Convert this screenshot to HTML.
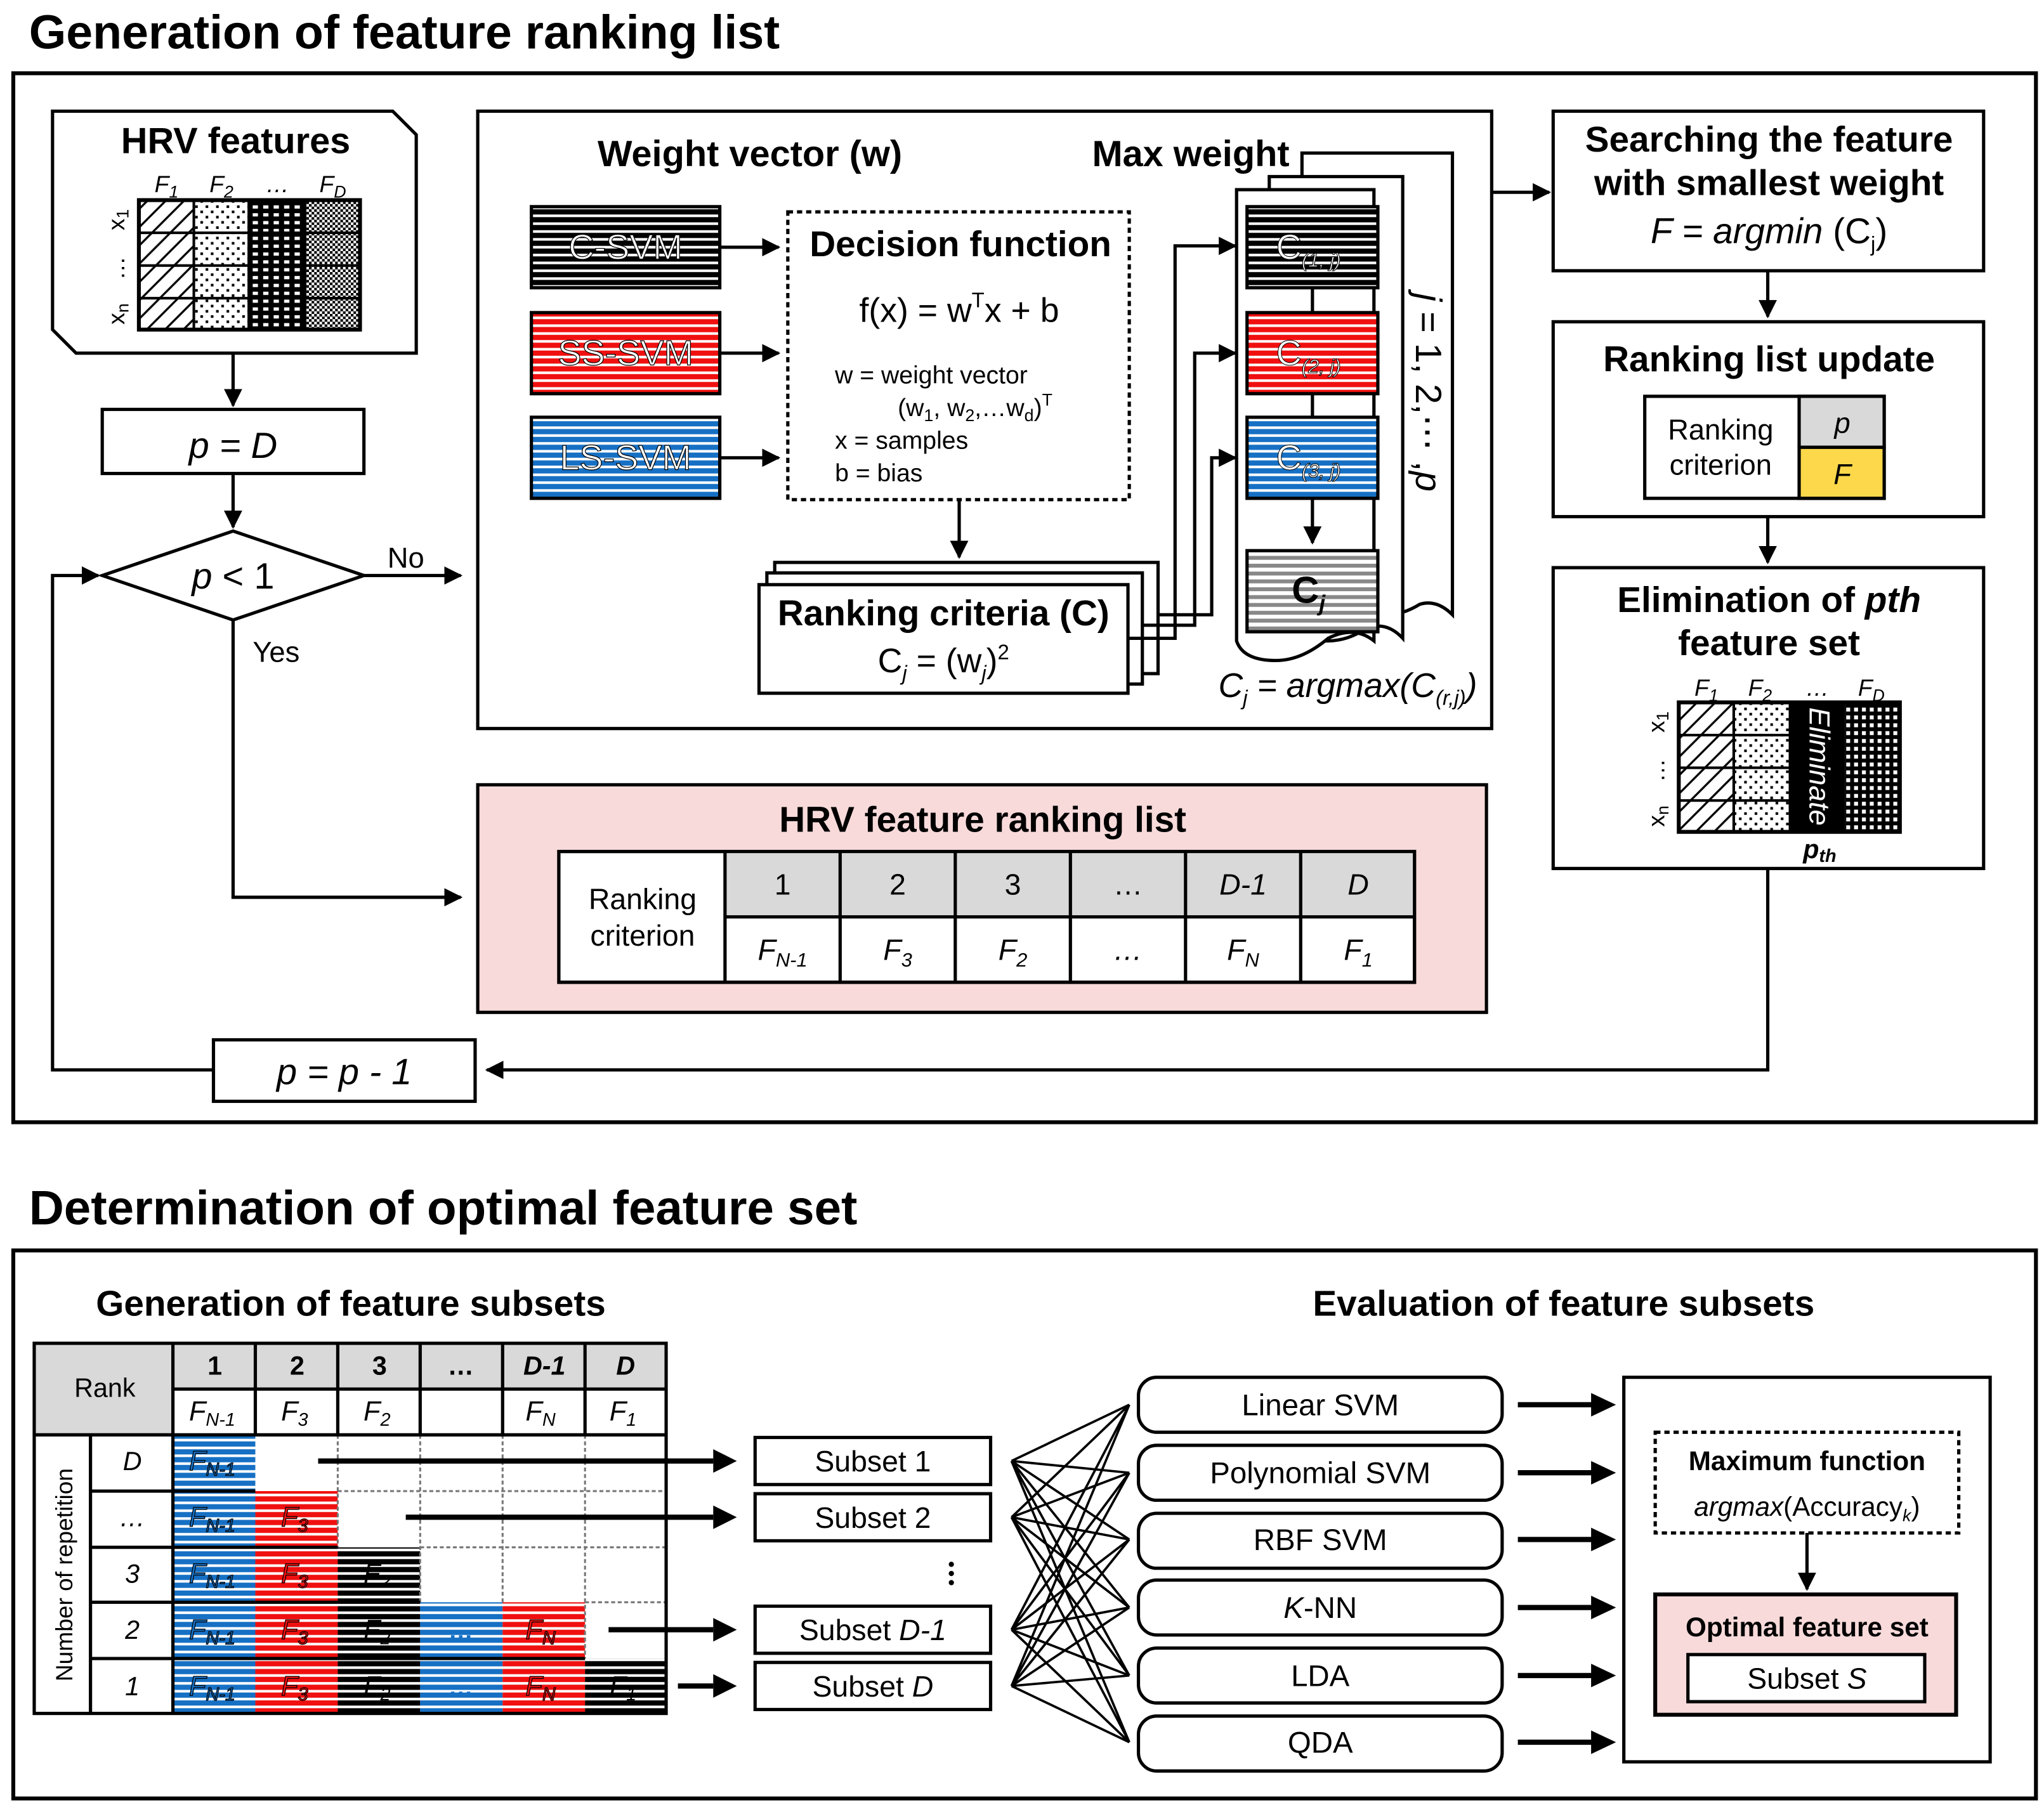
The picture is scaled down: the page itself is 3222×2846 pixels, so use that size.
<!DOCTYPE html>
<html><head><meta charset="utf-8"><style>
html,body{margin:0;padding:0;background:#fff}
svg{display:block}
text{font-family:"Liberation Sans",Arial,sans-serif}
.b{font-weight:bold}
.i{font-style:italic}
</style></head><body>
<svg width="3222" height="2846" viewBox="0 0 1562 1380" xmlns="http://www.w3.org/2000/svg">
<defs>
<pattern id="pk" width="6" height="6" patternUnits="userSpaceOnUse"><rect width="6" height="6" fill="#000"/><rect y="2" width="6" height="2" fill="#fff"/></pattern>
<pattern id="pr" width="6" height="6" patternUnits="userSpaceOnUse"><rect width="6" height="6" fill="#f01010"/><rect y="2" width="6" height="2" fill="#fff"/></pattern>
<pattern id="pb" width="6" height="6" patternUnits="userSpaceOnUse"><rect width="6" height="6" fill="#1670c4"/><rect y="2" width="6" height="2" fill="#fff"/></pattern>
<pattern id="pg" width="6" height="6" patternUnits="userSpaceOnUse"><rect width="6" height="6" fill="#888"/><rect y="2" width="6" height="3" fill="#fff"/></pattern>
<pattern id="hatch" width="14" height="14" patternUnits="userSpaceOnUse"><rect width="14" height="14" fill="#fff"/><path d="M-2,16 L16,-2 M-9,9 L9,-9 M5,23 L23,5" stroke="#000" stroke-width="1.6"/></pattern>
<pattern id="dots" width="8" height="8" patternUnits="userSpaceOnUse"><rect width="8" height="8" fill="#fff"/><rect x="1" y="1" width="2" height="2" fill="#000"/><rect x="5" y="5" width="2" height="2" fill="#000"/></pattern>
<pattern id="bdots" width="8" height="6" patternUnits="userSpaceOnUse"><rect width="8" height="6" fill="#000"/><rect x="1" y="1" width="4" height="2.5" fill="#fff"/></pattern>
<pattern id="chk" width="4" height="4" patternUnits="userSpaceOnUse"><rect width="4" height="4" fill="#fff"/><rect width="2" height="2" fill="#000"/><rect x="2" y="2" width="2" height="2" fill="#000"/></pattern>
<pattern id="wdots" width="6" height="6" patternUnits="userSpaceOnUse"><rect width="6" height="6" fill="#000"/><rect x="1" y="1" width="3" height="3" fill="#fff"/></pattern>
<marker id="ar" viewBox="0 0 10 10" refX="9" refY="5" markerWidth="14" markerHeight="14" markerUnits="userSpaceOnUse" orient="auto"><path d="M0,0 L10,5 L0,10 z"/></marker>
</defs>
<style>
.ln{stroke:#000;stroke-width:2.5;fill:none}
.bx{stroke:#000;stroke-width:2.5;fill:#fff}
</style>

<!-- Section 1 -->
<text x="22" y="37" font-size="36.5" class="b">Generation of feature ranking list</text>
<rect x="10" y="56" width="1546" height="802" fill="none" stroke="#000" stroke-width="3"/>

<!-- HRV features -->
<path d="M40,85 L300,85 L318,103 L318,270 L58,270 L40,252 Z" class="bx"/>
<text x="180" y="117" font-size="28" class="b" text-anchor="middle">HRV features</text>
<g font-size="18" class="i"><text x="118" y="147">F<tspan font-size="13" dy="4">1</tspan></text><text x="160" y="147">F<tspan font-size="13" dy="4">2</tspan></text><text x="203" y="147">…</text><text x="244" y="147">F<tspan font-size="13" dy="4">D</tspan></text></g>
<rect x="106" y="153" width="42" height="99" fill="url(#hatch)"/>
<rect x="148" y="153" width="42" height="99" fill="url(#dots)"/>
<rect x="190" y="153" width="43" height="99" fill="url(#bdots)"/>
<rect x="233" y="153" width="42" height="99" fill="url(#chk)"/>
<g stroke="#000" stroke-width="2" fill="none"><rect x="106" y="153" width="169" height="99" stroke-width="3"/><path d="M106,178H275M106,203H275M106,228H275M148,153V252M190,153V252M233,153V252"/></g>
<g font-size="18"><text transform="translate(95,168) rotate(-90)" text-anchor="middle">x<tspan font-size="13" dy="3">1</tspan></text><text transform="translate(95,205) rotate(-90)" text-anchor="middle">…</text><text transform="translate(95,240) rotate(-90)" text-anchor="middle">x<tspan font-size="13" dy="3">n</tspan></text></g>

<path d="M178,270V310" class="ln" marker-end="url(#ar)"/>
<rect x="78" y="313" width="200" height="49" class="bx"/>
<text x="178" y="350" font-size="28" class="i" text-anchor="middle">p = D</text>
<path d="M178,362V403" class="ln" marker-end="url(#ar)"/>
<path d="M78,440 L178,406 L278,440 L178,474 Z" class="bx"/>
<text x="178" y="450" font-size="28" text-anchor="middle"><tspan class="i">p</tspan> &lt; 1</text>
<text x="296" y="434" font-size="22">No</text>
<path d="M278,440H352" class="ln" marker-end="url(#ar)"/>
<text x="193" y="506" font-size="22">Yes</text>
<path d="M178,474V686H352" class="ln" marker-end="url(#ar)"/>
<path d="M163,818H40V440H75" class="ln" marker-end="url(#ar)"/>
<rect x="163" y="795" width="200" height="47" class="bx"/>
<text x="263" y="829" font-size="28" class="i" text-anchor="middle">p = p - 1</text>
<path d="M1351,665V818H372" class="ln" marker-end="url(#ar)"/>

<!-- middle box -->
<rect x="365" y="85" width="775" height="472" class="bx"/>
<text x="573" y="127" font-size="28" class="b" text-anchor="middle">Weight vector (w)</text>
<text x="910" y="127" font-size="28" class="b" text-anchor="middle">Max weight</text>
<rect x="406" y="158" width="144" height="62" fill="url(#pk)" stroke="#000" stroke-width="2.5"/>
<rect x="406" y="239" width="144" height="62" fill="url(#pr)" stroke="#000" stroke-width="2.5"/>
<rect x="406" y="319" width="144" height="62" fill="url(#pb)" stroke="#000" stroke-width="2.5"/>
<g font-size="27" fill="#fff" stroke="#000" stroke-width="0.6" text-anchor="middle"><text x="478" y="198">C-SVM</text><text x="478" y="279">SS-SVM</text><text x="478" y="359">LS-SVM</text></g>
<path d="M550,189H595" class="ln" marker-end="url(#ar)"/><path d="M550,270H595" class="ln" marker-end="url(#ar)"/><path d="M550,350H595" class="ln" marker-end="url(#ar)"/>
<rect x="602" y="162" width="261" height="220" fill="#fff" stroke="#000" stroke-width="2.5" stroke-dasharray="4,3"/>
<text x="734" y="196" font-size="27.5" class="b" text-anchor="middle">Decision function</text>
<text x="733" y="246" font-size="26" text-anchor="middle">f(x) =  w<tspan font-size="16" dy="-11">T</tspan><tspan dy="11">x + b</tspan></text>
<g font-size="19"><text x="638" y="293">w =  weight vector</text><text x="686" y="318">(w<tspan font-size="13" dy="4">1</tspan><tspan dy="-4">, w</tspan><tspan font-size="13" dy="4">2</tspan><tspan dy="-4">,…w</tspan><tspan font-size="13" dy="4">d</tspan><tspan dy="-4">)</tspan><tspan font-size="13" dy="-8">T</tspan></text><text x="638" y="343">x = samples</text><text x="638" y="368">b = bias</text></g>
<path d="M733,382V426" class="ln" marker-end="url(#ar)"/>
<rect x="592" y="430" width="293" height="85" class="bx"/>
<rect x="586" y="438" width="287" height="85" class="bx"/>
<rect x="580" y="447" width="282" height="83" class="bx"/>
<text x="721" y="478" font-size="27.5" class="b" text-anchor="middle">Ranking criteria (C)</text>
<text x="721" y="514" font-size="26" text-anchor="middle">C<tspan font-size="16" dy="6" class="i">j</tspan><tspan dy="-6"> = (w</tspan><tspan font-size="16" dy="6" class="i">j</tspan><tspan dy="-6">)</tspan><tspan font-size="16" dy="-10">2</tspan></text>
<path d="M885,470H926V350H944" class="ln" marker-end="url(#ar)"/>
<path d="M873,478H913V270H944" class="ln" marker-end="url(#ar)"/>
<path d="M862,488H898V188H944" class="ln" marker-end="url(#ar)"/>
<!-- page stack -->
<path d="M995,117H1110V470 Q1098,458 1085,462 Q1072,470 1060,470 L995,470Z" class="bx"/>
<path d="M970,135H1072V488 Q1060,475 1045,480 Q1030,490 1015,490 L970,490Z" class="bx"/>
<path d="M945,145H1050V490 Q1035,478 1015,488 Q995,505 975,505 Q950,505 945,490Z" class="bx"/>
<path d="M1003,220V239M1003,300V319" class="ln"/>
<rect x="953" y="158" width="100" height="62" fill="url(#pk)" stroke="#000" stroke-width="2.5"/>
<rect x="953" y="239" width="100" height="62" fill="url(#pr)" stroke="#000" stroke-width="2.5"/>
<rect x="953" y="319" width="100" height="62" fill="url(#pb)" stroke="#000" stroke-width="2.5"/>
<path d="M1003,381V415" class="ln" marker-end="url(#ar)"/>
<rect x="953" y="421" width="100" height="62" fill="url(#pg)" stroke="#000" stroke-width="2.5"/>
<g fill="#fff" stroke="#000" stroke-width="0.5" font-size="27" text-anchor="middle"><text x="1000" y="198">C<tspan font-size="15" dy="6" class="i">(1, j)</tspan></text><text x="1000" y="279">C<tspan font-size="15" dy="6" class="i">(2, j)</tspan></text><text x="1000" y="359">C<tspan font-size="15" dy="6" class="i">(3, j)</tspan></text></g>
<text x="1000" y="461" font-size="29" class="b" text-anchor="middle">C<tspan font-size="17" dy="6" class="i">j</tspan></text>
<text transform="translate(1082,300) rotate(90)" font-size="28" text-anchor="middle"><tspan class="i">j</tspan> = 1, 2,⋯ ,<tspan class="i">p</tspan></text>
<text x="1030" y="533" font-size="26" class="i" text-anchor="middle">C<tspan font-size="16" dy="6">j</tspan><tspan dy="-6"> = argmax(C</tspan><tspan font-size="16" dy="6">(r,j)</tspan><tspan dy="-6">)</tspan></text>

<!-- right column -->
<path d="M1140,147H1184" class="ln" marker-end="url(#ar)"/>
<rect x="1187" y="85" width="329" height="122" class="bx"/>
<g font-size="27.5" class="b" text-anchor="middle"><text x="1352" y="116">Searching the feature</text><text x="1352" y="149">with smallest weight</text></g>
<text x="1352" y="186" font-size="27.5" text-anchor="middle"><tspan class="i">F = argmin</tspan> (C<tspan font-size="16" dy="6">j</tspan><tspan dy="-6">)</tspan></text>
<path d="M1351,207V242" class="ln" marker-end="url(#ar)"/>
<rect x="1187" y="246" width="329" height="149" class="bx"/>
<text x="1352" y="284" font-size="27.5" class="b" text-anchor="middle">Ranking list update</text>
<rect x="1257" y="303" width="183" height="78" class="bx"/>
<rect x="1375" y="303" width="65" height="39" fill="#d9d9d9" stroke="#000" stroke-width="2.5"/>
<rect x="1375" y="342" width="65" height="39" fill="#fcd84a" stroke="#000" stroke-width="2.5"/>
<g font-size="22" text-anchor="middle"><text x="1315" y="336">Ranking</text><text x="1315" y="363">criterion</text><text x="1408" y="331" class="i">p</text><text x="1408" y="370" class="i">F</text></g>
<path d="M1351,395V430" class="ln" marker-end="url(#ar)"/>
<rect x="1187" y="434" width="329" height="230" class="bx"/>
<g font-size="27.5" class="b" text-anchor="middle"><text x="1352" y="468">Elimination of <tspan class="i">pth</tspan></text><text x="1352" y="501">feature set</text></g>
<g font-size="18" class="i"><text x="1295" y="532">F<tspan font-size="13" dy="4">1</tspan></text><text x="1336" y="532">F<tspan font-size="13" dy="4">2</tspan></text><text x="1380" y="532">…</text><text x="1420" y="532">F<tspan font-size="13" dy="4">D</tspan></text></g>
<rect x="1283" y="537" width="42" height="99" fill="url(#hatch)"/>
<rect x="1325" y="537" width="42" height="99" fill="url(#dots)"/>
<rect x="1367" y="537" width="43" height="99" fill="#000"/>
<rect x="1410" y="537" width="42" height="99" fill="url(#wdots)"/>
<g stroke="#000" stroke-width="2" fill="none"><rect x="1283" y="537" width="169" height="99" stroke-width="3"/><path d="M1283,562H1367M1283,587H1367M1283,612H1367M1325,537V636"/></g>
<text transform="translate(1383,586) rotate(90)" font-size="22" fill="#fff" class="i" text-anchor="middle">Eliminate</text>
<g font-size="18"><text transform="translate(1272,552) rotate(-90)" text-anchor="middle">x<tspan font-size="13" dy="3">1</tspan></text><text transform="translate(1272,589) rotate(-90)" text-anchor="middle">…</text><text transform="translate(1272,624) rotate(-90)" text-anchor="middle">x<tspan font-size="13" dy="3">n</tspan></text></g>
<text x="1378" y="656" font-size="20" class="b i">p<tspan font-size="14" dy="3">th</tspan></text>

<!-- ranking list -->
<rect x="365" y="600" width="771" height="174" fill="#f8dada" stroke="#000" stroke-width="2.5"/>
<text x="751" y="636" font-size="27.5" class="b" text-anchor="middle">HRV feature ranking list</text>
<rect x="427" y="651" width="654" height="100" fill="#fff" stroke="#000" stroke-width="2.5"/>
<rect x="554" y="651" width="527" height="50" fill="#d9d9d9"/>
<g stroke="#000" stroke-width="2.5" fill="none"><rect x="427" y="651" width="654" height="100"/><path d="M554,701H1081M554,651V751M642,651V751M730,651V751M818,651V751M906,651V751M994,651V751"/></g>
<g font-size="22.5" text-anchor="middle"><text x="491" y="695">Ranking</text><text x="491" y="723">criterion</text>
<text x="598" y="684">1</text><text x="686" y="684">2</text><text x="774" y="684">3</text><text x="862" y="684">…</text><text x="950" y="684" class="i">D-1</text><text x="1038" y="684" class="i">D</text>
<g class="i"><text x="598" y="734">F<tspan font-size="15" dy="5">N-1</tspan></text><text x="686" y="734">F<tspan font-size="15" dy="5">3</tspan></text><text x="774" y="734">F<tspan font-size="15" dy="5">2</tspan></text><text x="862" y="734">…</text><text x="950" y="734">F<tspan font-size="15" dy="5">N</tspan></text><text x="1038" y="734">F<tspan font-size="15" dy="5">1</tspan></text></g></g>

<!-- Section 2 -->
<text x="22" y="936" font-size="37" class="b">Determination of optimal feature set</text>
<rect x="10" y="956" width="1546" height="419" fill="none" stroke="#000" stroke-width="3"/>
<text x="268" y="1006" font-size="27.5" class="b" text-anchor="middle">Generation of feature subsets</text>
<text x="1195" y="1006" font-size="27.5" class="b" text-anchor="middle">Evaluation of feature subsets</text>

<!-- table -->
<rect x="26" y="1027" width="106" height="70" fill="#d9d9d9"/>
<rect x="132" y="1027" width="377" height="35" fill="#d9d9d9"/>
<g>
<rect x="132" y="1097" width="63" height="43" fill="url(#pb)"/>
<rect x="132" y="1140" width="63" height="43" fill="url(#pb)"/><rect x="195" y="1140" width="63" height="43" fill="url(#pr)"/>
<rect x="132" y="1183" width="63" height="42" fill="url(#pb)"/><rect x="195" y="1183" width="63" height="42" fill="url(#pr)"/><rect x="258" y="1183" width="63" height="42" fill="url(#pk)"/>
<rect x="132" y="1225" width="63" height="43" fill="url(#pb)"/><rect x="195" y="1225" width="63" height="43" fill="url(#pr)"/><rect x="258" y="1225" width="63" height="43" fill="url(#pk)"/><rect x="321" y="1225" width="63" height="43" fill="url(#pb)"/><rect x="384" y="1225" width="63" height="43" fill="url(#pr)"/>
<rect x="132" y="1268" width="63" height="43" fill="url(#pb)"/><rect x="195" y="1268" width="63" height="43" fill="url(#pr)"/><rect x="258" y="1268" width="63" height="43" fill="url(#pk)"/><rect x="321" y="1268" width="63" height="43" fill="url(#pb)"/><rect x="384" y="1268" width="63" height="43" fill="url(#pr)"/><rect x="447" y="1268" width="62" height="43" fill="url(#pk)"/>
</g>
<g stroke="#777" stroke-width="1.5" stroke-dasharray="3,2" fill="none"><path d="M258,1097V1183M321,1097V1225M384,1097V1225M447,1097V1268M258,1140H509M321,1183H509M447,1225H509"/></g>
<g stroke="#000" stroke-width="2.5" fill="none"><rect x="26" y="1027" width="483" height="283"/>
<path d="M132,1027V1310M195,1027V1097M258,1027V1097M321,1027V1097M384,1027V1097M447,1027V1097M132,1062H509M26,1097H509M69,1097V1310M69,1140H195M69,1183H258M69,1225H321M69,1268H447"/></g>
<g font-size="20" text-anchor="middle"><text x="80" y="1068">Rank</text>
<g class="b"><text x="164" y="1051">1</text><text x="227" y="1051">2</text><text x="290" y="1051">3</text><text x="352" y="1051">…</text><text x="416" y="1051" class="i">D-1</text><text x="478" y="1051" class="i">D</text></g>
<g class="i" font-size="21"><text x="162" y="1086">F<tspan font-size="14" dy="4">N-1</tspan></text><text x="225" y="1086">F<tspan font-size="14" dy="4">3</tspan></text><text x="288" y="1086">F<tspan font-size="14" dy="4">2</tspan></text><text x="413" y="1086">F<tspan font-size="14" dy="4">N</tspan></text><text x="476" y="1086">F<tspan font-size="14" dy="4">1</tspan></text></g>
<g class="i"><text x="101" y="1124">D</text><text x="101" y="1167">…</text><text x="101" y="1210">3</text><text x="101" y="1253">2</text><text x="101" y="1296">1</text></g>
<text transform="translate(55,1204) rotate(-90)" font-size="18" text-anchor="middle">Number of repetition</text>
<g class="i" font-size="21" fill="#1670c4" stroke="#000" stroke-width="0.6"><text x="162" y="1124">F<tspan font-size="14" dy="4">N-1</tspan></text><text x="162" y="1167">F<tspan font-size="14" dy="4">N-1</tspan></text><text x="162" y="1210">F<tspan font-size="14" dy="4">N-1</tspan></text><text x="162" y="1253">F<tspan font-size="14" dy="4">N-1</tspan></text><text x="162" y="1296">F<tspan font-size="14" dy="4">N-1</tspan></text></g>
<g class="i" font-size="21" fill="#f01010" stroke="#000" stroke-width="0.6"><text x="225" y="1167">F<tspan font-size="14" dy="4">3</tspan></text><text x="225" y="1210">F<tspan font-size="14" dy="4">3</tspan></text><text x="225" y="1253">F<tspan font-size="14" dy="4">3</tspan></text><text x="225" y="1296">F<tspan font-size="14" dy="4">3</tspan></text><text x="413" y="1253">F<tspan font-size="14" dy="4">N</tspan></text><text x="413" y="1296">F<tspan font-size="14" dy="4">N</tspan></text></g>
<g class="i" font-size="21" fill="#000"><text x="288" y="1210">F<tspan font-size="14" dy="4">2</tspan></text><text x="288" y="1253">F<tspan font-size="14" dy="4">2</tspan></text><text x="288" y="1296">F<tspan font-size="14" dy="4">2</tspan></text><text x="476" y="1296">F<tspan font-size="14" dy="4">1</tspan></text></g>
<g font-size="19" class="b" fill="#1670c4"><text x="352" y="1253">…</text><text x="352" y="1296">…</text></g>
</g>
<g stroke="#000" stroke-width="4" fill="none"><path d="M243,1117H545M310,1160H545M465,1246H545M518,1289H545"/></g>
<g fill="#000"><path d="M545,1108L563,1117L545,1126Z M545,1151L563,1160L545,1169Z M545,1237L563,1246L545,1255Z M545,1280L563,1289L545,1298Z"/></g>
<g stroke="#000" stroke-width="2.5" fill="#fff"><rect x="577" y="1099" width="180" height="36"/><rect x="577" y="1142" width="180" height="36"/><rect x="577" y="1228" width="180" height="36"/><rect x="577" y="1271" width="180" height="36"/></g>
<g font-size="22.5" text-anchor="middle"><text x="667" y="1125">Subset 1</text><text x="667" y="1168">Subset 2</text><text x="667" y="1254">Subset <tspan class="i">D-1</tspan></text><text x="667" y="1297">Subset <tspan class="i">D</tspan></text></g>
<g fill="#000"><circle cx="727" cy="1196" r="2"/><circle cx="727" cy="1203" r="2"/><circle cx="727" cy="1210" r="2"/></g>
<g stroke="#000" stroke-width="1.8">
<path d="M773,1117L863,1074M773,1117L863,1126M773,1117L863,1177M773,1117L863,1229M773,1117L863,1281M773,1117L863,1332"/>
<path d="M773,1160L863,1074M773,1160L863,1126M773,1160L863,1177M773,1160L863,1229M773,1160L863,1281M773,1160L863,1332"/>
<path d="M773,1246L863,1074M773,1246L863,1126M773,1246L863,1177M773,1246L863,1229M773,1246L863,1281M773,1246L863,1332"/>
<path d="M773,1289L863,1074M773,1289L863,1126M773,1289L863,1177M773,1289L863,1229M773,1289L863,1281M773,1289L863,1332"/>
</g>
<g stroke="#000" stroke-width="2.5" fill="#fff"><rect x="870" y="1053" width="278" height="42" rx="14"/><rect x="870" y="1105" width="278" height="42" rx="14"/><rect x="870" y="1157" width="278" height="42" rx="14"/><rect x="870" y="1208" width="278" height="42" rx="14"/><rect x="870" y="1260" width="278" height="42" rx="14"/><rect x="870" y="1312" width="278" height="42" rx="14"/></g>
<g font-size="23" text-anchor="middle"><text x="1009" y="1082">Linear SVM</text><text x="1009" y="1134">Polynomial SVM</text><text x="1009" y="1185">RBF SVM</text><text x="1009" y="1237"><tspan class="i">K</tspan>-NN</text><text x="1009" y="1289">LDA</text><text x="1009" y="1340">QDA</text></g>
<g stroke="#000" stroke-width="4"><path d="M1160,1074H1218M1160,1126H1218M1160,1177H1218M1160,1229H1218M1160,1281H1218M1160,1332H1218"/></g>
<g fill="#000"><path d="M1216,1065L1235,1074L1216,1083Z M1216,1117L1235,1126L1216,1135Z M1216,1168L1235,1177L1216,1186Z M1216,1220L1235,1229L1216,1238Z M1216,1272L1235,1281L1216,1290Z M1216,1323L1235,1332L1216,1341Z"/></g>
<rect x="1241" y="1053" width="280" height="294" class="bx"/>
<rect x="1265" y="1095" width="232" height="77" fill="#fff" stroke="#000" stroke-width="2.5" stroke-dasharray="4,3"/>
<text x="1381" y="1124" font-size="20.5" class="b" text-anchor="middle">Maximum function</text>
<text x="1381" y="1159" font-size="20.5" text-anchor="middle"><tspan class="i">argmax</tspan>(Accuracy<tspan font-size="13" dy="4" class="i">k</tspan><tspan dy="-4">)</tspan></text>
<path d="M1381,1172V1215" class="ln" marker-end="url(#ar)"/>
<rect x="1265" y="1219" width="230" height="92" fill="#f8dada" stroke="#000" stroke-width="3"/>
<text x="1381" y="1251" font-size="20.5" class="b" text-anchor="middle">Optimal feature set</text>
<rect x="1290" y="1265" width="181" height="36" fill="#fff" stroke="#000" stroke-width="2.5"/>
<text x="1381" y="1291" font-size="22.5" text-anchor="middle">Subset <tspan class="i">S</tspan></text>
</svg>
</body></html>
